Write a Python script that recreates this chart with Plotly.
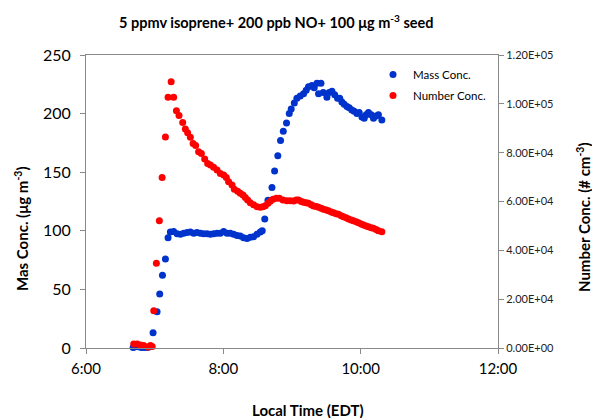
import plotly.graph_objects as go

# ---- data (time in minutes after midnight, EDT) ----
mass_time = [401.2, 403.2, 405.8, 408.4, 411.1, 413.7, 415.9, 418.6, 422.1, 424.4,
             426.8, 429.4, 431.7, 433.7, 436.6, 439.6, 442.5, 445.4, 448.3, 451.2,
             454.1, 457.0, 459.9, 462.8, 465.8, 468.7, 471.5, 474.5, 477.4, 480.3,
             483.2, 486.1, 489.0, 492.0, 494.8, 497.7, 500.7, 503.6, 506.4, 509.4,
             512.3, 514.0, 516.2, 519.0, 522.5, 524.8, 527.6, 530.0, 532.4, 535.2,
             537.6, 539.3, 542.0, 544.3, 547.2, 550.1, 552.4, 554.4, 557.4, 559.4,
             561.8, 563.2, 565.3, 567.3, 570.5, 572.5, 574.9, 577.3, 579.8, 581.7,
             583.6, 585.6, 588.0, 590.0, 592.3, 594.3, 596.7, 598.7, 601.1, 603.1,
             604.8, 606.8, 609.2, 611.2, 613.5, 615.5, 618.5]
mass_conc = [0.5, 1, 1, 0.5, 0.5, 0.5, 1, 13, 31, 46,
             62, 76, 94, 99, 99.5, 97.5, 97, 98, 98.5, 99,
             98, 98.5, 98, 97.5, 97.5, 97, 97.5, 98, 98, 99.5,
             98, 98, 97, 96, 95.5, 94, 93.5, 94.5, 95, 97,
             99, 100, 110, 126, 137, 151, 164, 177, 185, 192,
             200, 204, 209, 213, 215, 217, 220, 223, 224, 222,
             226, 217, 226, 218, 214, 218, 219, 216, 213, 213,
             210, 208, 206, 205, 203, 202, 200, 201, 197, 196,
             199, 201, 199, 196, 198, 199, 194.5]

num_time = [401.7, 404.7, 407.6, 410.4, 413.9, 416.3, 417.8, 419.2, 421.5, 424.1,
            426.5, 429.4, 431.7, 434.4, 436.6, 439.0, 441.3, 444.5, 446.8, 448.8,
            451.2, 453.6, 455.8, 458.4, 460.8, 463.7, 466.3, 468.7, 471.5, 474.5,
            477.4, 480.3, 482.6, 484.6, 487.6, 489.6, 492.5, 494.8, 497.2, 499.2,
            501.2, 503.6, 506.4, 509.4, 512.3, 514.6, 516.7, 519.0, 521.0, 523.4,
            526.3, 528.9, 532.1, 535.6, 538.5, 541.4, 543.7, 545.7, 548.1, 550.1,
            552.4, 554.4, 556.8, 558.8, 561.2, 563.2, 565.5, 567.5, 569.9, 571.9,
            574.3, 576.3, 578.6, 580.6, 583.0, 585.0, 587.3, 589.4, 591.7, 593.7,
            596.1, 598.1, 600.4, 602.5, 604.8, 606.8, 609.2, 611.2, 613.5, 615.5,
            618.5]
num_conc = [1640, 1640, 1230, 1000, 400, 1000, 600, 15300, 34700, 52100,
            69800, 86400, 102700, 109000, 102700, 97200, 95200, 92400, 89700, 88200,
            86300, 83800, 82900, 80400, 79700, 77400, 75600, 74900, 74000, 72900,
            71500, 70900, 69800, 68100, 66800, 65000, 64200, 63400, 62700, 61600,
            60600, 59500, 58700, 57900, 57600, 57900, 58300, 59300, 60100, 60900,
            61300, 61300, 60600, 60300, 60300, 60200, 60600, 60600, 60000, 59700,
            59500, 59300, 58700, 58200, 58000, 57600, 57200, 56800, 56500, 56200,
            55700, 55400, 55000, 54800, 54200, 53800, 53300, 52800, 52400, 52100,
            51700, 51300, 50800, 50400, 50000, 49700, 49300, 49000, 48500, 48000,
            47600]

x_ticks = [6, 8, 10, 12]
x_tick_labels = ["6:00", "8:00", "10:00", "12:00"]
y1_ticks = [0, 50, 100, 150, 200, 250]
y2_ticks = [0, 20000, 40000, 60000, 80000, 100000, 120000]
y2_tick_labels = [f"{v:.2E}" for v in y2_ticks]

mass_hours = [t / 60 for t in mass_time]
num_hours = [t / 60 for t in num_time]

FONT = "Lato"
AX = "#898989"
W, H = 592, 418
L, R, T, B = 86, 592 - 498, 55, 418 - 348
PW, PH = W - L - R, H - T - B


def px(xs):  # screen px -> paper x
    return (xs - L) / PW


def py(ys):  # screen px -> paper y
    return (H - B - ys) / PH


fig = go.Figure()
fig.add_trace(go.Scatter(x=mass_hours, y=mass_conc, mode="markers", name="Mass Conc.",
                         legendgroup="a",
                         marker=dict(color="#0033CC", size=7), cliponaxis=False))
fig.add_trace(go.Scatter(x=num_hours, y=num_conc, mode="markers", name="Number Conc.",
                         legendgroup="b", yaxis="y2",
                         marker=dict(color="#FF0000", size=7), cliponaxis=False))

fig.update_layout(
    width=W, height=H, margin=dict(l=L, r=R, t=T, b=B),
    paper_bgcolor="white", plot_bgcolor="white",
    font=dict(family=FONT, color="black"),
    showlegend=True,
    legend=dict(x=px(373), y=py(60), xanchor="left", yanchor="top",
                bgcolor="rgba(0,0,0,0)", font=dict(size=11.5, family=FONT, color="black"),
                itemwidth=30, tracegroupgap=2),
    xaxis=dict(range=[6, 12], tickvals=x_ticks, ticktext=x_tick_labels,
               showline=True, linecolor=AX, linewidth=1, mirror=True,
               ticks="outside", ticklen=5, tickcolor=AX, showgrid=False, zeroline=False,
               tickfont=dict(size=15), ticklabelstandoff=2),
    yaxis=dict(range=[0, 250], tickvals=y1_ticks, showline=True, linecolor=AX,
               ticks="outside", ticklen=5, tickcolor=AX, showgrid=False, zeroline=False,
               tickfont=dict(size=16), ticklabelstandoff=6),
    yaxis2=dict(range=[0, 120000], tickvals=y2_ticks, ticktext=y2_tick_labels,
                overlaying="y", side="right", showline=True, linecolor=AX,
                ticks="outside", ticklen=5, tickcolor=AX, showgrid=False, zeroline=False,
                tickfont=dict(size=11, color="#222")),
)

annos = [
    dict(text="<b>5 ppmv isoprene+ 200 ppb NO+ 100 μg m<sup>-3</sup> seed</b>",
         x=px(276), y=py(21), font=dict(size=14.5)),
    dict(text="<b>Local Time (EDT)</b>", x=px(308), y=py(410), font=dict(size=15)),
    dict(text="<b>Mas Conc. (μg m<sup>-3</sup>)</b>", x=px(21), y=py(229),
         font=dict(size=15), textangle=-90),
    dict(text="<b>Number Conc. (# cm<sup>-3</sup>)</b>", x=px(583), y=py(217),
         font=dict(size=15), textangle=-90),
]
for a in annos:
    fig.add_annotation(xref="paper", yref="paper", showarrow=False,
                       xanchor="center", yanchor="middle", **a)

fig.write_html(
    "out.html",
    config={"displayModeBar": False},
    post_script="document.body.style.margin='0';document.body.style.overflow='hidden';",
)
